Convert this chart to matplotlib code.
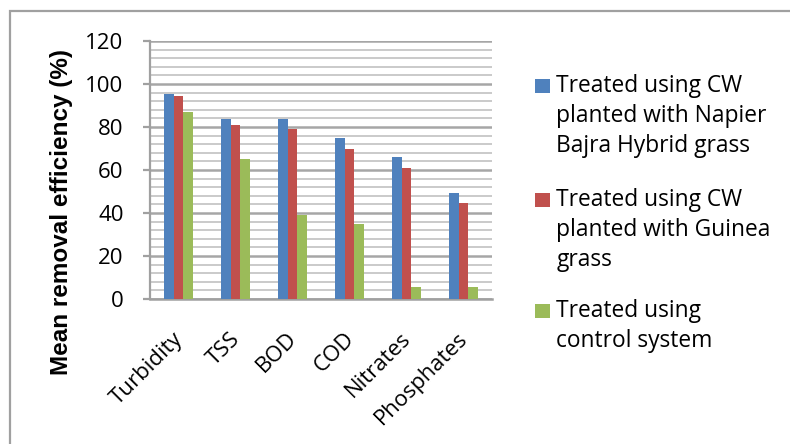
import numpy as np
import matplotlib
matplotlib.use("Agg")
import matplotlib.pyplot as plt
from matplotlib.patches import Rectangle
from matplotlib.ticker import MultipleLocator
import matplotlib.transforms as mtransforms

categories = ["Turbidity", "TSS", "BOD", "COD", "Nitrates", "Phosphates"]
napier = [95.4, 83.8, 83.8, 74.9, 65.9, 49.2]
guinea = [94.3, 80.8, 79.1, 69.8, 60.8, 44.8]
control = [87.1, 65.0, 38.9, 34.7, 5.5, 5.5]
series_labels = [
    "Treated using CW\nplanted with Napier\nBajra Hybrid grass",
    "Treated using CW\nplanted with Guinea\ngrass",
    "Treated using\ncontrol system",
]
colors = ["#4F81BD", "#C0504D", "#9BBB59"]
y_label = "Mean removal efficiency (%)"

W, H = 790, 444
fig = plt.figure(figsize=(W / 100, H / 100), dpi=100)
fig.patch.set_facecolor("white")

# outer chart frame
fig.patches.append(Rectangle((10 / W, -0.1), 1.2, 1 - 11.5 / H + 0.1,
                             transform=fig.transFigure, fill=False,
                             edgecolor="#a0a0a0", linewidth=1.6))

ax = fig.add_axes([150 / W, (H - 299) / H, 342 / W, 258 / H])
ax.set_facecolor("white")

x = np.arange(len(categories))
bw = 0.164
for i, (vals, c) in enumerate(zip([napier, guinea, control], colors)):
    ax.bar(x + (i - 1) * bw, vals, width=bw, color=c, zorder=3,
           edgecolor="none")

ax.set_xlim(-0.5, len(categories) - 0.5)
ax.set_ylim(0, 120)
ax.yaxis.set_major_locator(MultipleLocator(20))
ax.yaxis.set_minor_locator(MultipleLocator(4))
ax.grid(which="major", axis="y", color="#a6a6a6", linewidth=1.8, zorder=1)
ax.grid(which="minor", axis="y", color="#cacaca", linewidth=1.4, zorder=1)
ax.set_axisbelow(True)

for s in ["top", "right"]:
    ax.spines[s].set_visible(False)
ax.spines["left"].set_color("#a0a0a0")
ax.spines["left"].set_linewidth(1.6)
ax.spines["bottom"].set_color("#a0a0a0")
ax.spines["bottom"].set_linewidth(1.8)

tick_font = dict(family=["Open Sans", "DejaVu Sans"], size=16)
ax.tick_params(axis="y", which="major", length=5, width=1.6,
               color="#a0a0a0", pad=14, labelsize=16)
ax.tick_params(axis="y", which="minor", length=0)
ax.set_yticks(np.arange(0, 121, 20))
ax.set_yticklabels([str(v) for v in range(0, 121, 20)], **tick_font)

ax.set_xticks(x)
ax.set_xticklabels(categories, rotation=45, ha="right", va="top",
                   rotation_mode="anchor", **tick_font)
ax.tick_params(axis="x", length=0, pad=21)
offset = mtransforms.ScaledTranslation(-6 / 100, 0, fig.dpi_scale_trans)
for lab in ax.get_xticklabels():
    lab.set_transform(lab.get_transform() + offset)

fig.text(62 / W, 1 - 212 / H, y_label, rotation=90, ha="center",
         va="center", family=["Liberation Sans", "DejaVu Sans"],
         weight="bold", size=17.5)

# legend
baselines = [93.3, 206.7, 318.3]
for lbl, c, b in zip(series_labels, colors, baselines):
    fig.patches.append(Rectangle((535 / W, 1 - b / H), 15 / W, 14 / H,
                                 transform=fig.transFigure, facecolor=c,
                                 edgecolor="none"))
    fig.text(556.5 / W, 1 - (b - 19) / H, lbl, ha="left", va="top",
             family=["Open Sans", "DejaVu Sans"], size=16.4, linespacing=1.33)

fig.savefig("out.png", dpi=100, facecolor="white")
